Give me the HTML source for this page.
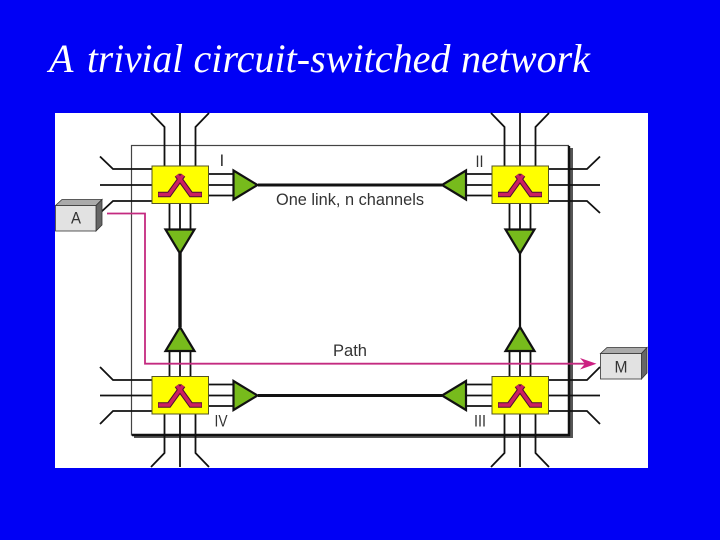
<!DOCTYPE html>
<html><head><meta charset="utf-8"><style>
html,body{margin:0;padding:0;background:#0000f5;width:720px;height:540px;overflow:hidden}
svg{display:block}
</style></head><body>
<svg width="720" height="540" viewBox="0 0 720 540" xmlns="http://www.w3.org/2000/svg">
<defs>
<g id="sw">
<rect x="-28" y="-19" width="56.500" height="37.500" fill="#ffff00" stroke="#555522" stroke-width="1"/>
<polyline points="-22,9.500 -11,9.500 3,-10" fill="none" stroke="#4a1030" stroke-width="5.500"/>
<polyline points="22,9.500 11,9.500 -3,-10" fill="none" stroke="#4a1030" stroke-width="5.500"/>
<polyline points="-21.500,9.500 -11,9.500 3,-10" fill="none" stroke="#cc2060" stroke-width="3.500"/>
<polyline points="21.500,9.500 11,9.500 -3,-10" fill="none" stroke="#cc2060" stroke-width="3.500"/>
</g>
<g id="tri"><polygon points="0,-14.500 0,14.500 24,0" fill="#77bb1c" stroke="#111" stroke-width="2.200" stroke-linejoin="miter"/></g>
</defs>

<rect x="55" y="113" width="593" height="355" fill="#fff"/>

<!-- frame -->
<rect x="134" y="148" width="439" height="290" fill="#555"/>
<rect x="131.500" y="145.500" width="437" height="289.500" fill="#fff" stroke="#444" stroke-width="1.200"/>
<path d="M132 435H569V146" fill="none" stroke="#111" stroke-width="2.400"/>

<!-- external wires -->
<g fill="none" stroke="#111" stroke-width="1.800">
<path d="M151 113L164.500 127V166M180 113V166M209 113L195.500 127V166"/>
<path d="M491 113L504.500 127V166M520 113V166M549 113L535.500 127V166"/>
<path d="M100 156.500L113 169H152M100 185H152M100 213L113 201H152"/>
<path d="M600 156.500L587 169H548M600 185H548M600 213L587 201H548"/>
<path d="M100 367L113 380H152M100 395.500H152M100 424L113 411H152"/>
<path d="M600 367L587 380H548M600 395.500H548M600 424L587 411H548"/>
<path d="M151 467L164.500 453V414M180 467V414M209 467L195.500 453V414"/>
<path d="M491 467L504.500 453V414M520 467V414M549 467L535.500 453V414"/>
<!-- trunk channels -->
<path d="M208 174H233M208 185H233M208 195.500H233"/>
<path d="M492 174H466M492 185H466M492 195.500H466"/>
<path d="M208 384.500H233M208 395.500H233M208 406H233"/>
<path d="M492 384.500H466M492 395.500H466M492 406H466"/>
<path d="M169.500 204V229M180 204V229M190.500 204V229"/>
<path d="M509.500 204V229M520 204V229M530.500 204V229"/>
<path d="M169.500 351V377M180 351V377M190.500 351V377"/>
<path d="M509.500 351V377M520 351V377M530.500 351V377"/>
</g>

<!-- links -->
<g stroke="#111" fill="none">
<path d="M258 185H442" stroke-width="3"/>
<path d="M258 395.500H442" stroke-width="3"/>
<path d="M180 253V327" stroke-width="3.400"/>
<path d="M520 253V327" stroke-width="2.200"/>
</g>

<!-- amplifier triangles -->
<use href="#tri" transform="translate(233.500,185)"/>
<use href="#tri" transform="translate(233.500,395.500)"/>
<use href="#tri" transform="translate(466,185) rotate(180)"/>
<use href="#tri" transform="translate(466,395.500) rotate(180)"/>
<use href="#tri" transform="translate(180,229.500) rotate(90)"/>
<use href="#tri" transform="translate(520,229.500) rotate(90)"/>
<use href="#tri" transform="translate(180,351) rotate(-90)"/>
<use href="#tri" transform="translate(520,351) rotate(-90)"/>

<!-- switches -->
<use href="#sw" transform="translate(180,185)"/>
<use href="#sw" transform="translate(520,185)"/>
<use href="#sw" transform="translate(180,395.500)"/>
<use href="#sw" transform="translate(520,395.500)"/>

<!-- path -->
<path d="M107 213.500H145V363.700H585" fill="none" stroke="#c42a80" stroke-width="1.800"/>
<polygon points="596.500,363.700 580,358 585,363.700 580,369.500" fill="#cc1f82"/>

<!-- boxes -->
<g stroke="#333" stroke-width=".8">
<polygon points="55.500,205.500 62,199.500 102,199.500 96,205.500" fill="#aaa"/>
<polygon points="96,205.500 102,199.500 102,225 96,231" fill="#666"/>
<rect x="55.500" y="205.500" width="40.500" height="25.500" fill="#e2e2e2"/>
<polygon points="600.500,353.500 607,347.500 647,347.500 641.500,353.500" fill="#aaa"/>
<polygon points="641.500,353.500 647,347.500 647,373 641.500,379" fill="#666"/>
<rect x="600.500" y="353.500" width="41" height="25.500" fill="#e2e2e2"/>
</g>

<!-- labels -->
<g font-family="'Liberation Sans',sans-serif" fill="#333">
<text x="76" y="223.500" font-size="17" text-anchor="middle" textLength="10" lengthAdjust="spacingAndGlyphs">A</text>
<text x="621" y="372.500" font-size="17" text-anchor="middle" textLength="13" lengthAdjust="spacingAndGlyphs">M</text>
<text x="276" y="205" font-size="16.500" textLength="148" lengthAdjust="spacingAndGlyphs">One link, n channels</text>
<text x="333" y="356" font-size="16.500" textLength="34" lengthAdjust="spacingAndGlyphs">Path</text>
<text x="219.500" y="166" font-size="17">I</text>
<text x="475.500" y="167" font-size="17" textLength="8" lengthAdjust="spacingAndGlyphs">II</text>
<text x="214.500" y="426.500" font-size="17" textLength="13" lengthAdjust="spacingAndGlyphs">IV</text>
<text x="474" y="426.500" font-size="17" textLength="12" lengthAdjust="spacingAndGlyphs">III</text>
</g>

<g font-family="'Liberation Serif',serif" font-style="italic" font-size="40" fill="#fff">
<text x="49" y="72">A</text>
<text x="87" y="72" textLength="96" lengthAdjust="spacingAndGlyphs">trivial</text>
<text x="193.500" y="72" textLength="257" lengthAdjust="spacingAndGlyphs">circuit-switched</text>
<text x="461" y="72" textLength="129" lengthAdjust="spacingAndGlyphs">network</text>
</g>
</svg>
</body></html>
